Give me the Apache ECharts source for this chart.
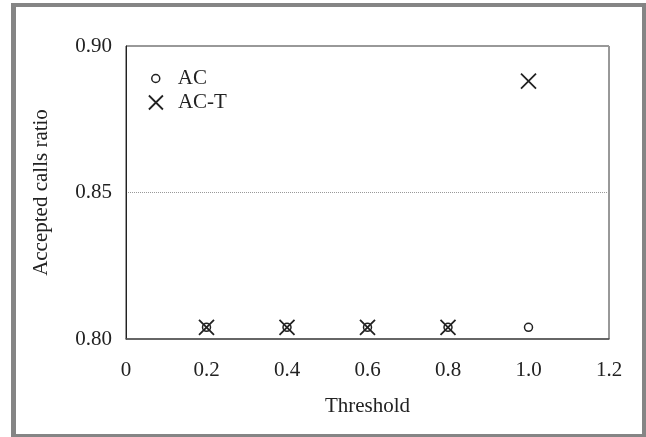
<!DOCTYPE html>
<html>
<head>
<meta charset="utf-8">
<script src="https://cdn.jsdelivr.net/npm/echarts@6/dist/echarts.min.js"></script>
<style>
  html, body { margin: 0; padding: 0; background: #fff; }
  #wrap { position: relative; width: 646px; height: 437px; overflow: hidden; }
  #chart { position: absolute; left: 0; top: 0; width: 646px; height: 437px; }
  #frame { position: absolute; left: 11px; top: 3px; width: 626px; height: 427px; border-left: 5px solid #858585; border-top: 4px solid #858585; border-right: 4px solid #858585; border-bottom: 3px solid #858585; pointer-events: none; box-sizing: content-box; }
</style>
</head>
<body>
<div id="wrap">
  <div id="chart"></div>
  <div id="frame"></div>
</div>
<script>
// ---- data ----
const thresholds = [0.2, 0.4, 0.6, 0.8, 1.0];
const acValues   = [0.804, 0.804, 0.804, 0.804, 0.804];
const actValues  = [0.804, 0.804, 0.804, 0.804, 0.888];
const seriesNames = ['AC', 'AC-T'];
const xTicks = { min: 0, max: 1.2, interval: 0.2 };
const yTicks = { min: 0.80, max: 0.90, interval: 0.05 };

const FONT = '"Liberation Serif", "DejaVu Serif", serif';
const INK = '#222';
const FS = 21;
const crossPath = 'path://M0,0L10,10M10,0L0,10';

const chart = echarts.init(document.getElementById('chart'), null, { renderer: 'canvas' });
chart.setOption({
  animation: false,
  backgroundColor: '#fff',
  textStyle: { fontFamily: FONT, color: INK },
  grid: { left: 126, right: 37, top: 46, bottom: 98, show: true, borderColor: '#333', borderWidth: 1, backgroundColor: 'transparent' },
  legend: [
    {
      data: [{ name: seriesNames[0], icon: 'circle' }],
      left: 151, top: 68, itemWidth: 8, itemHeight: 8, padding: 0,
      itemStyle: { color: '#fff', borderColor: INK, borderWidth: 1.5 },
      textStyle: { fontFamily: FONT, fontSize: FS, color: INK, padding: [0, 0, 0, 13] },
      selectedMode: false
    },
    {
      data: [{ name: seriesNames[1], icon: crossPath }],
      left: 148, top: 92, itemWidth: 14, itemHeight: 14, padding: 0,
      itemStyle: { color: 'transparent', borderColor: INK, borderWidth: 1.8 },
      textStyle: { fontFamily: FONT, fontSize: FS, color: INK, padding: [0, 0, 0, 10] },
      selectedMode: false
    }
  ],
  xAxis: {
    type: 'value', min: xTicks.min, max: xTicks.max, interval: xTicks.interval,
    name: 'Threshold', nameLocation: 'middle', nameGap: 57,
    nameTextStyle: { fontFamily: FONT, fontSize: FS, color: INK },
    axisLine: { show: true, lineStyle: { color: '#555', width: 1.5 } },
    axisTick: { show: false },
    splitLine: { show: false },
    axisLabel: {
      fontFamily: FONT, fontSize: FS, color: INK, margin: 21,
      formatter: v => (Math.abs(v) < 1e-9 ? '0' : v.toFixed(1))
    }
  },
  yAxis: {
    type: 'value', min: yTicks.min, max: yTicks.max, interval: yTicks.interval,
    name: 'Accepted calls ratio', nameLocation: 'middle', nameGap: 74, nameRotate: 90,
    nameTextStyle: { fontFamily: FONT, fontSize: FS, color: INK },
    axisLine: { show: true, lineStyle: { color: '#222', width: 1 } },
    axisTick: { show: false },
    splitLine: { show: true, lineStyle: { color: '#999', type: 'dotted', width: 1 } },
    axisLabel: {
      fontFamily: FONT, fontSize: FS, color: INK, margin: 14,
      formatter: v => v.toFixed(2)
    }
  },
  series: [
    {
      name: seriesNames[0], type: 'scatter', symbol: 'circle', symbolSize: 8,
      itemStyle: { color: '#fff', borderColor: INK, borderWidth: 1.5, opacity: 1 },
      data: thresholds.map((x, i) => [x, acValues[i]]), z: 3
    },
    {
      name: seriesNames[1], type: 'scatter', symbol: crossPath, symbolSize: 15,
      itemStyle: { color: 'transparent', borderColor: INK, borderWidth: 1.8, opacity: 1 },
      data: thresholds.map((x, i) => [x, actValues[i]]), z: 4
    }
  ]
});
</script>
</body>
</html>
